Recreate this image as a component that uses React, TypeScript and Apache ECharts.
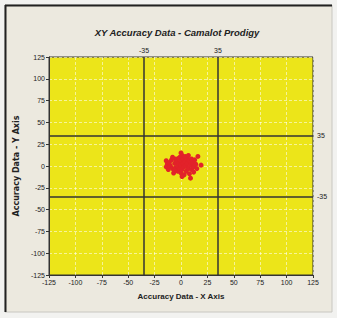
import React, { useEffect, useRef } from "react";
import * as echarts from "echarts";

const xTicks = [-125, -100, -75, -50, -25, 0, 25, 50, 75, 100, 125];
const refLines = [-35, 35];
const pointsX = [0, 1, -1, 16, 19, -14, -13, -14, -11, -10, -9, -8, -7, -6, -5, -5, -4, -3, -3, -2, -2, -1, 0, 0, 0, 1, 2, 2, 3, 3, 4, 5, 5, 6, 6, 7, 8, 8, 9, 9, 10, 11, 12, 12, 13, 14, 15, -12, 4, -6, 10, 1, 7, -8];
const pointsY = [15, 12, 10, 11, 1, 6, 2, -1, 4, 0, 7, -3, -8, 3, 8, -2, 5, 0, -6, 9, 3, -3, 6, 1, -8, -4, 8, 3, -1, -10, 5, 0, -6, 9, 3, -3, 6, -9, 1, -14, -4, 4, -1, -7, 7, 2, -3, -4, 11, -5, 8, -12, 12, 10];

const sans = "'Liberation Sans', Arial, sans-serif";

export default function App() {
  const ref = useRef<HTMLDivElement>(null);
  useEffect(() => {
    if (!ref.current) return;
    const chart = echarts.init(ref.current, null, { renderer: "svg" });
    const data = pointsX.map((x, i) => [x, pointsY[i]]);
    const axisCommon = {
      type: "value",
      min: -125,
      max: 125,
      interval: 25,
      axisLine: { show: true, onZero: false, lineStyle: { color: "#333", width: 1 } },
      axisTick: { show: true, length: 3, lineStyle: { color: "#333" } },
      axisLabel: { color: "#222", fontSize: 7, fontFamily: sans, margin: 4 },
      splitLine: { show: true, lineStyle: { color: "rgba(255,255,255,0.55)", type: [3, 2], width: 1 } },
      nameLocation: "middle",
    };
    chart.setOption({
      animation: false,
      backgroundColor: "#f2f2f0",
      graphic: [
        {
          type: "rect",
          shape: { x: 5, y: 5, width: 327, height: 307 },
          style: { fill: "#ece9df", stroke: "#c8c6c0", lineWidth: 1 },
          z: -10,
        },
        { type: "line", shape: { x1: 5.5, y1: 5, x2: 5.5, y2: 312 }, style: { stroke: "#222", lineWidth: 2 }, z: -9 },
        { type: "line", shape: { x1: 5, y1: 5.5, x2: 332, y2: 5.5 }, style: { stroke: "#222", lineWidth: 2 }, z: -9 },
      ],
      title: {
        text: "XY Accuracy Data - Camalot Prodigy",
        left: 172,
        textAlign: "center",
        top: 22,
        textStyle: { fontSize: 9.5, fontWeight: "bold", fontStyle: "italic", fontFamily: sans, color: "#222" },
      },
      grid: {
        left: 49,
        right: 24,
        top: 57,
        bottom: 43,
        show: true,
        backgroundColor: "#ece519",
        borderColor: "#333",
        borderWidth: 1,
      },
      xAxis: {
        ...axisCommon,
        name: "Accuracy Data - X Axis",
        nameGap: 17,
        nameTextStyle: { fontSize: 8, fontWeight: "bold", fontFamily: sans, color: "#222" },
        data: xTicks,
      },
      yAxis: {
        ...axisCommon,
        name: "Accuracy Data - Y Axis",
        nameGap: 26,
        nameTextStyle: { fontSize: 8, fontWeight: "bold", fontFamily: "'DejaVu Sans', sans-serif", color: "#222" },
      },
      series: [
        {
          type: "scatter",
          data,
          symbolSize: 5,
          itemStyle: { color: "#e2222a", opacity: 1 },
          markLine: {
            silent: true,
            symbol: "none",
            animation: false,
            lineStyle: { color: "#333", width: 1.5, type: "solid" },
            label: { show: true, color: "#222", fontSize: 7, fontFamily: sans, formatter: (p: any) => String(p.value) },
            data: [
              ...refLines.map((v) => ({ xAxis: v, label: { position: "end", distance: 3 } })),
              ...refLines.map((v) => ({ yAxis: v, label: { position: "end", distance: 4 } })),
            ],
          },
        },
      ],
    });
    return () => chart.dispose();
  }, []);
  return <div ref={ref} style={{ position: "fixed", left: 0, top: 0, width: 337, height: 318 }} />;
}
